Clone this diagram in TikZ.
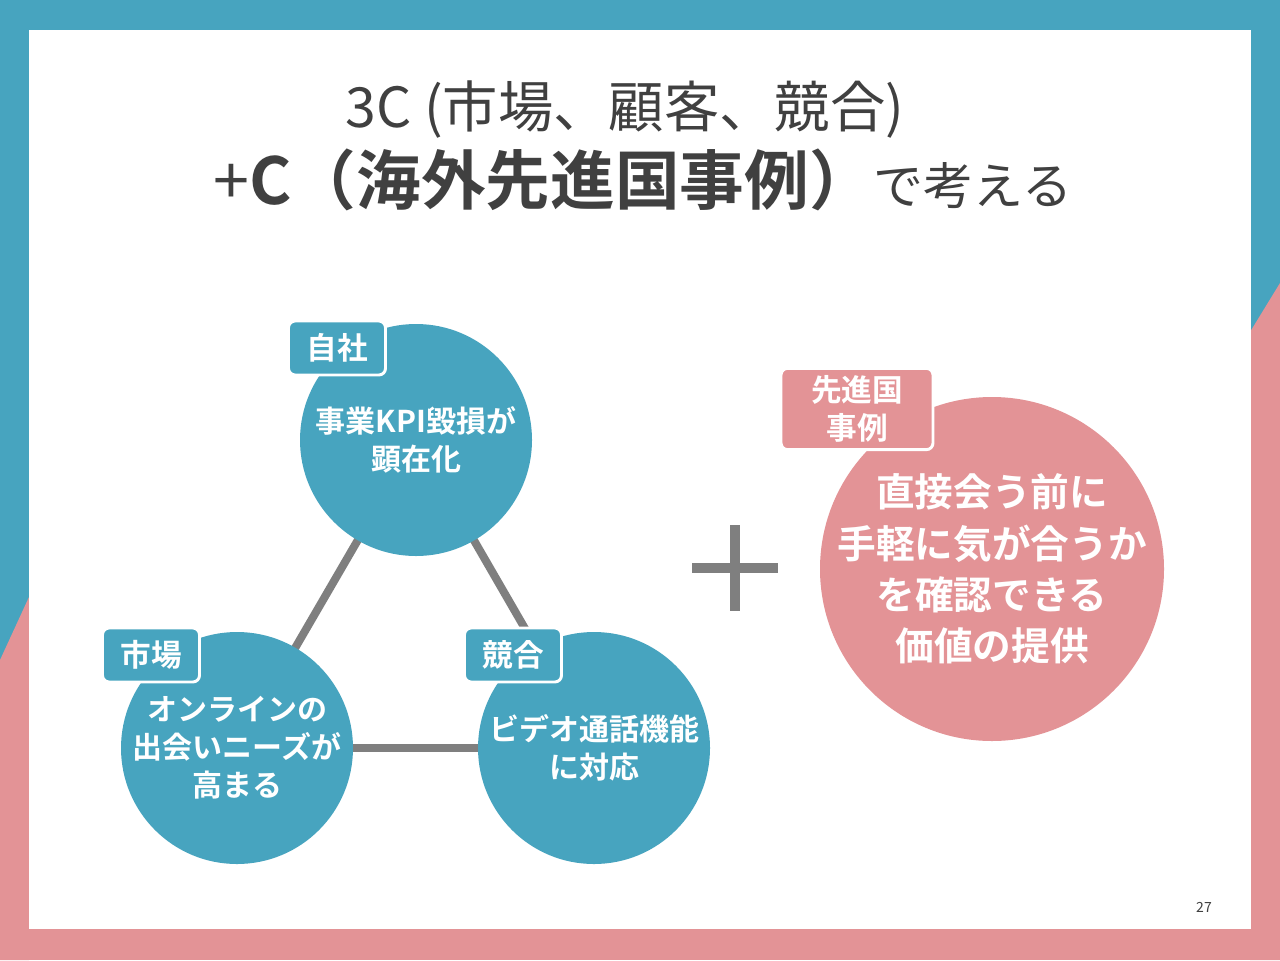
\documentclass[tikz,border=0pt]{standalone}
\usepackage{fontspec}
\setmainfont{Noto Sans CJK JP}[BoldFont={Noto Sans CJK JP Bold}]
\usepackage{xcolor}
\usepackage{tikz}
\usetikzlibrary{positioning}

\definecolor{teal3c}{HTML}{47A4BF}
\definecolor{pink3c}{HTML}{E39396}
\definecolor{link3c}{HTML}{7F7F7F}
\definecolor{title3c}{HTML}{404040}

\pgfdeclarelayer{frame}
\pgfdeclarelayer{back}
\pgfsetlayers{frame,back,main}

\begin{document}
\begin{tikzpicture}[x=0.75pt, y=-0.75pt,
  bubble/.style={circle, fill=teal3c, minimum size=174pt, inner sep=-30pt, text=white, align=center,
    font=\bfseries\fontsize{22.5}{28.5}\selectfont},
  tag/.style={rounded corners=5pt, fill=teal3c, draw=white, line width=2.2pt, text=white, align=center,
    inner sep=0pt, font=\bfseries\fontsize{23}{28.5}\selectfont},
  link/.style={link3c, line width=6pt}]
  \useasboundingbox (0,0) rectangle (1280,960);

  % Frame
  \begin{pgfonlayer}{frame}
    \fill[teal3c] (0,0) rectangle (1280,960);
    \fill[pink3c] (0,660) -- (29,597) -- (29,960) -- (0,960) -- cycle;
    \fill[pink3c] (1250,332) -- (1280,283) -- (1280,960) -- (1250,960) -- cycle;
    \fill[pink3c] (0,929) rectangle (1280,960);
    \fill[white] (29,30) rectangle (1251,929);
  \end{pgfonlayer}

  % Title
  \node[text=title3c, font=\fontsize{41.5}{46}\selectfont] (title) at (625,110) {3C (市場、顧客、競合)};
  \node[text=title3c, anchor=base] (subtitle) at (643,204)
    {\fontsize{48.5}{54}\selectfont +\bfseries C（海外先進国事例）\mdseries\fontsize{37.5}{42}\selectfont で考える};

  % 3C circles
  \node[bubble] (self) at (416,440) {事業KPI毀損が\\顕在化};
  \node[bubble] (market) at (237,748) {オンラインの\\出会いニーズが\\高まる};
  \node[bubble] (rival) at (594,748) {ビデオ通話機能\\に対応};

  \node[tag, minimum width=72.75pt, minimum height=40.5pt] (selftag) at (337,348) {自社};
  \node[tag, minimum width=72.75pt, minimum height=40.5pt] (markettag) at (151,655) {市場};
  \node[tag, minimum width=72.75pt, minimum height=40.5pt] (rivaltag) at (513,655) {競合};

  % Links
  \begin{pgfonlayer}{back}
    \draw[link] (self.center) -- (market.center);
    \draw[link] (self.center) -- (rival.center);
    \draw[link] (market.center) -- (rival.center);
  \end{pgfonlayer}

  % Plus
  \draw[link, line width=7.5pt] (692,568) -- (778,568);
  \draw[link, line width=7.5pt] (735,525) -- (735,611);

  % Overseas case
  \node[bubble, fill=pink3c, minimum size=258pt, inner sep=-60pt, font=\bfseries\fontsize{29}{38.5}\selectfont]
    (overseas) at (992,569) {直接会う前に\\手軽に気が合うか\\を確認できる\\価値の提供};
  \node[tag, fill=pink3c, minimum width=114pt, minimum height=61pt] (overseastag) at (857,409) {先進国\\事例};

  \node[text=title3c, font=\fontsize{10.5}{12}\selectfont] (page) at (1204,907) {27};
\end{tikzpicture}
\end{document}
